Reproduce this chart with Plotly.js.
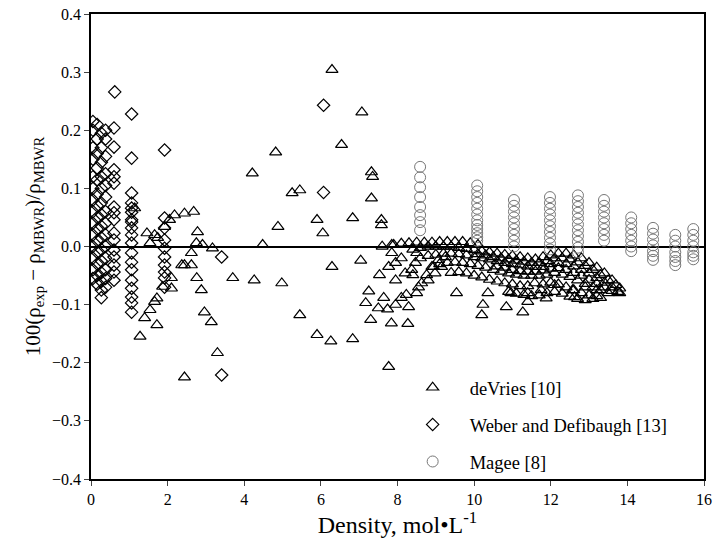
<!DOCTYPE html>
<html>
<head>
<meta charset="utf-8">
<script src="https://cdn.plot.ly/plotly-3.0.1.min.js"></script>
<style>html,body{margin:0;padding:0;background:#fff;}</style>
</head>
<body>
<div id="chart" style="width:715px;height:543px;"></div>
<script>
// deVries [10]
const devriesX = [
 1.14,1.28,1.40,1.46,1.54,1.54,1.66,1.66,1.72,1.72,1.74,1.87,1.92,2.05,2.10,2.10,2.18,2.37,2.44,2.44,
 2.44,2.62,2.62,2.68,2.75,2.76,2.78,2.88,2.91,2.96,3.14,3.17,3.30,3.70,4.21,4.26,4.48,4.82,4.88,4.98,
 5.25,5.45,5.45,5.90,5.90,6.05,6.26,6.29,6.29,6.54,6.83,6.83,7.04,7.07,7.17,7.25,7.30,7.32,7.35,7.32,
 7.50,7.53,7.58,7.58,7.60,7.64,7.74,7.77,7.77,7.84,7.85,7.85,7.95,7.95,7.95,8.10,8.20,8.23,8.27,8.37,
 8.47,8.50,8.55,8.80,8.98,9.15,8.10,8.29,8.40,8.50,8.63,8.76,8.94,9.07,9.25,
 7.9,8.1,8.3,8.5,8.7,8.9,9.1,9.3,9.5,9.7,9.9,10.1,
 8.4,8.6,8.8,9.0,9.2,9.4,9.6,9.8,10.0,10.2,10.4,10.6,10.8,11.0,11.2,11.4,11.6,11.8,12.0,12.2,12.4,12.6,12.8,13.0,13.2,13.4,13.6,13.8,
 10.1,10.3,10.5,10.7,10.9,11.1,11.3,11.5,11.7,11.9,12.1,12.3,12.5,12.7,12.9,13.1,13.3,13.5,13.7,
 8.6,8.8,9.0,9.2,9.4,9.6,9.8,10.0,10.2,10.4,10.6,10.8,11.0,11.2,11.4,11.6,11.8,12.0,12.2,12.4,12.6,12.8,13.0,13.2,13.4,13.6,13.75,
 10.6,10.8,11.0,11.2,11.4,11.6,11.8,12.0,12.2,12.4,12.6,12.8,13.0,13.2,13.4,13.6,
 8.9,9.1,9.3,9.5,9.7,9.9,10.1,10.3,10.5,10.7,10.9,11.1,11.3,11.5,11.7,11.9,12.1,12.3,12.5,12.7,12.9,13.1,13.3,13.5,
 9.4,9.6,9.8,10.0,10.2,10.4,10.6,10.8,11.0,11.2,11.4,11.8,12.0,12.2,12.4,12.6,12.8,13.0,13.2,
 10.9,11.1,11.3,11.5,11.7,11.9,12.1,12.3,12.5,12.7,12.9,13.1,13.3,
 9.54,10.36,10.23,10.20,10.84,11.27,10.96,11.40,11.40,11.58,11.75,11.88,12.10,12.57,12.62,12.90,13.20,13.80
];
const devriesY = [
 0.066,-0.155,-0.123,0.023,0.006,-0.109,0.020,-0.095,-0.089,-0.135,0.015,-0.069,0.034,0.046,-0.054,-0.072,0.054,-0.032,0.057,-0.032,
 -0.225,-0.011,-0.032,0.060,0.006,-0.054,0.025,-0.075,0.003,-0.113,-0.130,-0.003,-0.183,-0.054,0.126,-0.058,0.003,0.162,0.034,-0.063,
 0.092,0.097,-0.118,0.046,-0.152,0.023,-0.163,0.304,-0.035,0.175,0.049,-0.159,-0.024,0.231,-0.097,-0.077,-0.126,0.128,0.120,0.083,
 -0.106,-0.049,0.046,0.037,0.000,-0.088,-0.108,-0.207,-0.035,-0.132,0.003,-0.011,-0.028,-0.058,-0.100,-0.020,-0.046,-0.083,-0.133,-0.040,
 -0.028,-0.011,-0.070,-0.058,-0.046,-0.035,-0.088,-0.104,-0.049,-0.080,-0.063,-0.049,-0.035,-0.023,-0.018,
 0.003,0.005,0.006,0.007,0.007,0.007,0.008,0.008,0.008,0.008,0.006,0.003,
 -0.005,-0.002,0.000,0.000,0.000,0.000,-0.002,-0.004,-0.006,-0.008,-0.010,-0.012,-0.014,-0.016,-0.018,-0.020,-0.022,-0.018,-0.015,-0.012,-0.012,-0.015,-0.020,-0.028,-0.036,-0.046,-0.058,-0.072,
 -0.013,-0.015,-0.018,-0.020,-0.022,-0.024,-0.026,-0.028,-0.028,-0.025,-0.020,-0.020,-0.022,-0.027,-0.033,-0.040,-0.049,-0.058,-0.066,
 -0.020,-0.016,-0.014,-0.012,-0.012,-0.013,-0.015,-0.018,-0.020,-0.022,-0.025,-0.028,-0.030,-0.032,-0.034,-0.035,-0.035,-0.030,-0.028,-0.030,-0.034,-0.040,-0.046,-0.054,-0.062,-0.070,-0.078,
 -0.034,-0.036,-0.040,-0.042,-0.043,-0.043,-0.041,-0.038,-0.037,-0.040,-0.045,-0.050,-0.057,-0.064,-0.070,-0.076,
 -0.035,-0.030,-0.028,-0.027,-0.028,-0.030,-0.033,-0.036,-0.040,-0.043,-0.046,-0.048,-0.050,-0.050,-0.050,-0.048,-0.045,-0.048,-0.052,-0.058,-0.064,-0.070,-0.075,-0.080,
 -0.045,-0.044,-0.046,-0.050,-0.053,-0.057,-0.060,-0.063,-0.065,-0.068,-0.068,-0.065,-0.062,-0.065,-0.070,-0.075,-0.080,-0.084,-0.085,
 -0.078,-0.081,-0.083,-0.085,-0.084,-0.080,-0.078,-0.081,-0.086,-0.090,-0.092,-0.090,-0.088,
 -0.080,-0.080,-0.100,-0.118,-0.104,-0.113,-0.080,-0.080,-0.095,-0.063,-0.075,-0.089,-0.066,-0.075,-0.087,-0.070,-0.075,-0.080
];

// Weber and Defibaugh [13]
const weberX = [
 0.05,0.05,0.05,0.05,0.05,0.05,0.05,0.05,0.05,0.05,0.05,0.05,0.05,0.05,
 0.16,0.16,0.16,0.16,0.16,0.16,0.16,0.16,0.16,0.16,0.16,0.16,0.16,0.16,
 0.27,0.27,0.27,0.27,0.27,0.27,0.27,0.27,0.27,0.27,0.27,0.27,0.27,0.27,0.27,
 0.38,0.38,0.38,0.38,0.38,0.38,0.38,0.38,0.38,0.38,0.38,0.38,0.38,0.38,
 0.62,0.60,0.60,0.60,0.60,0.60,0.60,0.60,0.60,0.60,0.60,0.60,0.60,0.60,0.60,0.60,
 1.06,1.06,1.06,1.06,1.06,1.06,1.06,1.06,1.06,1.06,1.06,1.06,1.06,1.06,1.06,1.06,1.06,1.06,1.06,
 1.92,1.92,1.92,1.92,1.92,1.92,1.92,1.92,1.92,1.92,
 3.41,3.41,6.07,6.07
];
const weberY = [
 0.215,0.200,0.170,0.150,0.120,0.100,0.080,0.060,0.040,0.020,0.000,-0.020,-0.040,-0.055,
 0.210,0.185,0.160,0.135,0.115,0.090,0.070,0.050,0.030,0.010,-0.010,-0.030,-0.050,-0.065,
 0.195,0.170,0.145,0.120,0.100,0.075,0.055,0.035,0.015,-0.005,-0.025,-0.045,-0.060,-0.075,-0.088,
 0.200,0.185,0.155,0.125,0.105,0.085,0.060,0.040,0.020,0.000,-0.020,-0.040,-0.055,-0.070,
 0.266,0.204,0.171,0.132,0.120,0.109,0.068,0.058,0.046,0.023,0.011,-0.006,-0.018,-0.032,-0.044,-0.058,
 0.228,0.152,0.092,0.075,0.059,0.046,0.032,0.020,0.006,-0.011,-0.027,-0.040,-0.058,-0.072,-0.087,-0.097,-0.113,0.066,0.042,
 0.166,0.049,0.032,0.011,-0.003,-0.018,-0.032,-0.044,-0.054,-0.070,
 -0.018,-0.221,0.243,0.093
];

// Magee [8]
const mageeX = [
 8.59,8.59,8.59,8.59,8.59,8.59,8.59,8.59,
 10.08,10.08,10.08,10.08,10.08,10.08,10.08,10.08,10.08,10.08,10.08,10.08,
 11.04,11.04,11.04,11.04,11.04,11.04,11.04,11.04,11.04,
 11.98,11.98,11.98,11.98,11.98,11.98,11.98,11.98,11.98,11.98,
 12.71,12.71,12.71,12.71,12.71,12.71,12.71,12.71,12.71,12.71,12.71,
 13.39,13.39,13.39,13.39,13.39,13.39,13.39,13.39,
 14.10,14.10,14.10,14.10,14.10,14.10,14.10,
 14.67,14.67,14.67,14.67,14.67,14.67,14.67,
 15.25,15.25,15.25,15.25,15.25,15.25,15.25,
 15.72,15.72,15.72,15.72,15.72,15.72,15.72
];
const mageeY = [
 0.137,0.119,0.102,0.085,0.068,0.054,0.042,0.028,
 0.105,0.095,0.085,0.075,0.065,0.055,0.045,0.037,0.030,0.023,0.016,0.010,
 0.080,0.070,0.060,0.050,0.040,0.030,0.020,0.010,0.000,
 0.085,0.075,0.065,0.055,0.045,0.035,0.025,0.015,0.005,-0.005,
 0.088,0.078,0.068,0.058,0.048,0.038,0.028,0.018,0.008,-0.002,-0.010,
 0.080,0.070,0.060,0.050,0.040,0.030,0.020,0.010,
 0.050,0.040,0.030,0.020,0.010,0.000,-0.008,
 0.032,0.022,0.012,0.002,-0.008,-0.016,-0.023,
 0.020,0.010,0.000,-0.010,-0.018,-0.025,-0.032,
 0.030,0.020,0.010,0.000,-0.010,-0.016,-0.022
];

const seriesNames = ['deVries [10]', 'Weber and Defibaugh [13]', 'Magee [8]'];

const traces = [
  {x: devriesX, y: devriesY, name: seriesNames[0], legendgroup: 'a', type: 'scatter', mode: 'markers',
   marker: {symbol: 'triangle-up-open', size: 10.5, color: '#000', line: {width: 1.2, color: '#000'}}},
  {x: weberX, y: weberY, name: seriesNames[1], legendgroup: 'b', type: 'scatter', mode: 'markers',
   marker: {symbol: 'diamond-open', size: 9.5, color: '#000', line: {width: 1.2, color: '#000'}}},
  {x: mageeX, y: mageeY, name: seriesNames[2], legendgroup: 'c', type: 'scatter', mode: 'markers',
   marker: {symbol: 'circle-open', size: 11, color: '#777', line: {width: 1, color: '#777'}}}
];

const layout = {
  width: 715, height: 543,
  margin: {l: 91, r: 11, t: 14, b: 64},
  paper_bgcolor: '#fff', plot_bgcolor: '#fff',
  font: {family: 'Liberation Serif, Times New Roman, serif', color: '#000', size: 16},
  showlegend: true,
  legend: {x: 0.497, y: -0.004, xanchor: 'left', yanchor: 'bottom', bgcolor: 'rgba(0,0,0,0)',
           font: {size: 18.5}, itemwidth: 64, traceorder: 'grouped', tracegroupgap: 10},
  xaxis: {range: [0, 16], tick0: 0, dtick: 2, ticks: 'outside', ticklen: 5, tickwidth: 1,
          showline: true, linewidth: 1.5, linecolor: '#000', mirror: true, showgrid: false, zeroline: false,
          tickfont: {size: 16},
          title: {text: 'Density, mol\u2022L<sup>-1</sup>', font: {size: 24}, standoff: 7}},
  yaxis: {range: [-0.4, 0.4], tick0: 0, dtick: 0.1, tickformat: '.1f', ticks: 'outside', ticklen: 5, tickwidth: 1,
          showline: true, linewidth: 1.5, linecolor: '#000', mirror: true, showgrid: false,
          zeroline: true, zerolinecolor: '#000', zerolinewidth: 1.5,
          tickfont: {size: 16},
          title: {text: '100(\u03c1<sub>exp</sub> \u2212 \u03c1<sub>MBWR</sub>)/\u03c1<sub>MBWR</sub>', font: {size: 21}, standoff: 6}}
};

Plotly.newPlot('chart', traces, layout, {displayModeBar: false, responsive: false});
</script>
</body>
</html>
